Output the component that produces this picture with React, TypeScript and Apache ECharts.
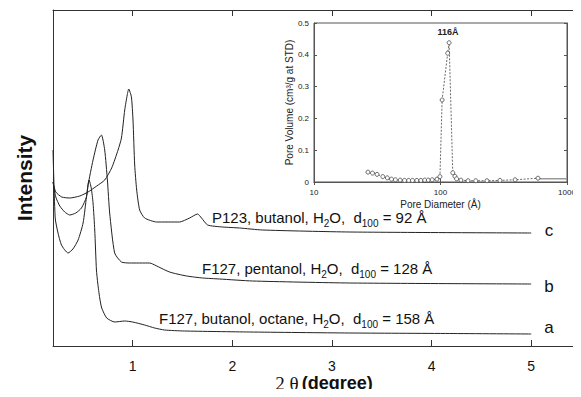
import React, { useEffect, useRef } from "react";
import * as echarts from "echarts";

// Main XRD patterns: [2θ (degree), intensity (arb. units)]
const curveA: [number, number][] = [
  [0.2, 196], [0.222, 128], [0.248, 114], [0.285, 101], [0.351, 93], [0.4, 97],
  [0.452, 106], [0.502, 123], [0.536, 149], [0.562, 166], [0.584, 158], [0.602, 143],
  [0.619, 116], [0.636, 76], [0.649, 63], [0.669, 48], [0.689, 38], [0.739, 28],
  [0.82, 24], [0.92, 25], [1.0, 24], [1.12, 21], [1.22, 18], [1.32, 16], [1.52, 15],
  [2.17, 14], [3.17, 13], [4.18, 12.5], [5.0, 12],
];
const curveB: [number, number][] = [
  [0.2, 164], [0.228, 149], [0.268, 140], [0.318, 134], [0.368, 131], [0.429, 133],
  [0.486, 138], [0.536, 149], [0.552, 161], [0.602, 186], [0.652, 206], [0.686, 211],
  [0.719, 196], [0.746, 166], [0.769, 133], [0.819, 93], [0.887, 84], [0.97, 83],
  [1.17, 83], [1.2, 82], [1.37, 74], [1.541, 70], [1.702, 68], [1.872, 67],
  [2.203, 65], [3.175, 63], [5.0, 62],
];
const curveC: [number, number][] = [
  [0.2, 164], [0.228, 154], [0.288, 149], [0.368, 148], [0.469, 150], [0.552, 154],
  [0.639, 160], [0.719, 166], [0.789, 178], [0.853, 196], [0.887, 208], [0.92, 236],
  [0.945, 251], [0.96, 257], [0.987, 249], [1.003, 226], [1.02, 181], [1.04, 156],
  [1.07, 136], [1.12, 128], [1.241, 124], [1.471, 124], [1.571, 128], [1.651, 132],
  [1.691, 128], [1.752, 121], [1.902, 119], [2.073, 118], [2.303, 116], [3.175, 114],
  [5.0, 113],
];
const mainTicks = [1, 2, 3, 4, 5];

// Inset: pore size distribution [pore diameter (Å), pore volume (cm3/g)]
const poreData: [number, number][] = [
  [26.7, 0.031], [29, 0.028], [31.5, 0.024], [35, 0.017], [38, 0.013], [41, 0.009],
  [44, 0.007], [48, 0.006], [52, 0.005], [56, 0.005], [60, 0.005], [65, 0.005],
  [70, 0.005], [75, 0.006], [80, 0.006], [86, 0.007], [93.8, 0.009], [99, 0.017],
  [103, 0.258], [114, 0.405], [117, 0.438], [125, 0.029], [130, 0.018], [134, 0.01],
  [145, 0.006], [165, 0.004], [190, 0.004], [233, 0.004], [295, 0.005], [389, 0.007],
  [590, 0.012],
];
const poreTail: [number, number][] = [[590, 0.01], [1000, 0.01]];
const poreTicks = [10, 100, 1000];

const seriesLabels = [
  { rich: "{n|P123, butanol, H}{s|2}{n|O,  d}{s|100}{n| = 92 Å}", x: 212, y: 217, tag: "c", ty: 230 },
  { rich: "{n|F127, pentanol, H}{s|2}{n|O,  d}{s|100}{n| = 128 Å}", x: 202, y: 268, tag: "b", ty: 286 },
  { rich: "{n|F127, butanol, octane, H}{s|2}{n|O,  d}{s|100}{n| = 158 Å}", x: 159, y: 318, tag: "a", ty: 327 },
];

export default function App() {
  const ref = useRef<HTMLDivElement>(null);
  useEffect(() => {
    if (!ref.current) return;
    const chart = echarts.init(ref.current, undefined, { renderer: "svg" });
    const ink = "#222";
    const lineSeries = (data: [number, number][]) => ({
      type: "line",
      xAxisIndex: 0,
      yAxisIndex: 0,
      data,
      symbol: "none",
      smooth: 0.2,
      lineStyle: { color: ink, width: 1 },
      silent: true,
    });
    const graphics: any[] = [];
    seriesLabels.forEach((l) => {
      graphics.push({
        type: "text",
        x: l.x,
        y: l.y,
        z: 20,
        style: {
          text: l.rich,
          verticalAlign: "middle",
          rich: {
            n: { fontSize: 15, lineHeight: 22, fontFamily: "Liberation Sans", fill: "#111", verticalAlign: "middle" },
            s: { fontSize: 10, lineHeight: 10, fontFamily: "Liberation Sans", fill: "#111", verticalAlign: "bottom" },
          },
        },
      });
      graphics.push({
        type: "text",
        x: 549,
        y: l.ty,
        z: 20,
        style: { text: l.tag, fontSize: 17, fontFamily: "Liberation Sans", fill: "#111", align: "center", verticalAlign: "middle" },
      });
    });
    graphics.push({
      type: "text",
      x: 448,
      y: 32,
      z: 20,
      style: { text: "116Å", fontSize: 9, fontWeight: "bold", fontFamily: "Liberation Sans", fill: "#222", align: "center", verticalAlign: "middle" },
    });

    chart.setOption({
      animation: false,
      textStyle: { fontFamily: "Liberation Sans" },
      grid: [
        { left: 53, right: 0, top: 10, bottom: 51, outerBoundsMode: "none", containLabel: false },
        { left: 314, right: 14, top: 23, bottom: 215, outerBoundsMode: "none", containLabel: false, show: true, backgroundColor: "#fff", borderColor: "#555", borderWidth: 1, z: 3 },
      ],
      xAxis: [
        {
          type: "value", gridIndex: 0, min: 0.2, max: 5.5, position: "bottom",
          axisLine: { lineStyle: { color: "#333", width: 1 } },
          axisTick: { inside: true, length: 6, customValues: mainTicks, lineStyle: { color: "#333" } },
          axisLabel: { customValues: mainTicks, fontSize: 14, color: "#111", margin: 13 },
          splitLine: { show: false },
          name: "{s|2 θ} {b|(degree)}",
          nameLocation: "middle",
          nameGap: 28,
          nameMoveOverlap: false,
          nameTextStyle: {
            padding: [0, 0, 0, 14],
            lineHeight: 18,
            rich: {
              s: { fontFamily: "Liberation Serif", fontSize: 19, lineHeight: 18, color: "#111" },
              b: { fontFamily: "Liberation Sans", fontWeight: "bold", fontSize: 18, lineHeight: 18, color: "#111" },
            },
          },
        },
        {
          type: "value", gridIndex: 0, min: 0.2, max: 5.5, position: "top",
          axisLine: { lineStyle: { color: "#333", width: 1 } },
          axisTick: { inside: true, length: 6, customValues: mainTicks, lineStyle: { color: "#333" } },
          axisLabel: { show: false },
          splitLine: { show: false },
        },
        {
          type: "log", logBase: 10, gridIndex: 1, min: 10, max: 1000, position: "bottom",
          axisLine: { lineStyle: { color: "#555" } },
          axisTick: { inside: true, length: 3, lineStyle: { color: "#555" } },
          axisLabel: { fontSize: 8, color: "#222", margin: 6, showMaxLabel: true, customValues: poreTicks, formatter: (v: number) => String(Math.round(v)) },
          splitLine: { show: false },
          name: "Pore Diameter (Å)",
          nameLocation: "middle",
          nameGap: 17,
          nameMoveOverlap: false,
          nameTextStyle: { fontSize: 10, color: "#222" },
          z: 4,
        },
        {
          type: "log", logBase: 10, gridIndex: 1, min: 10, max: 1000, position: "top",
          axisLine: { lineStyle: { color: "#555" } },
          axisTick: { inside: true, length: 3, lineStyle: { color: "#555" } },
          axisLabel: { show: false },
          splitLine: { show: false },
          z: 4,
        },
      ],
      yAxis: [
        {
          type: "value", gridIndex: 0, min: 0, max: 336,
          axisLine: { show: true, lineStyle: { color: "#333", width: 1 } },
          axisTick: { show: false },
          axisLabel: { show: false },
          splitLine: { show: false },
          name: "Intensity",
          nameLocation: "middle",
          nameGap: 18,
          nameMoveOverlap: false,
          nameTextStyle: { fontSize: 21, fontWeight: "bold", color: "#111" },
        },
        {
          type: "value", gridIndex: 1, min: 0, max: 0.5, interval: 0.1,
          axisLine: { show: true, lineStyle: { color: "#555" } },
          axisTick: { inside: true, length: 3, lineStyle: { color: "#555" } },
          axisLabel: { fontSize: 8, color: "#222", margin: 5 },
          splitLine: { show: false },
          name: "Pore Volume (cm³/g at STD)",
          nameLocation: "middle",
          nameGap: 20,
          nameMoveOverlap: false,
          nameTextStyle: { fontSize: 10, color: "#222" },
          z: 4,
        },
        {
          type: "value", gridIndex: 1, min: 0, max: 0.5, interval: 0.1, position: "right",
          axisLine: { show: true, lineStyle: { color: "#555" } },
          axisTick: { inside: true, length: 3, lineStyle: { color: "#555" } },
          axisLabel: { show: false },
          splitLine: { show: false },
          z: 4,
        },
      ],
      series: [
        lineSeries(curveA),
        lineSeries(curveB),
        lineSeries(curveC),
        {
          type: "line", xAxisIndex: 2, yAxisIndex: 1, data: poreData,
          symbol: "circle", symbolSize: 4,
          itemStyle: { color: "#fff", borderColor: "#444", borderWidth: 0.8 },
          lineStyle: { color: "#444", width: 0.8, type: [2, 1.5] },
          z: 5, silent: true,
        },
        {
          type: "line", xAxisIndex: 2, yAxisIndex: 1, data: poreTail,
          symbol: "none",
          lineStyle: { color: "#999", width: 1.5 },
          z: 5, silent: true,
        },
      ],
      graphic: graphics,
    });
    return () => chart.dispose();
  }, []);
  return <div ref={ref} style={{ width: 581, height: 397, margin: -8 }} />;
}
